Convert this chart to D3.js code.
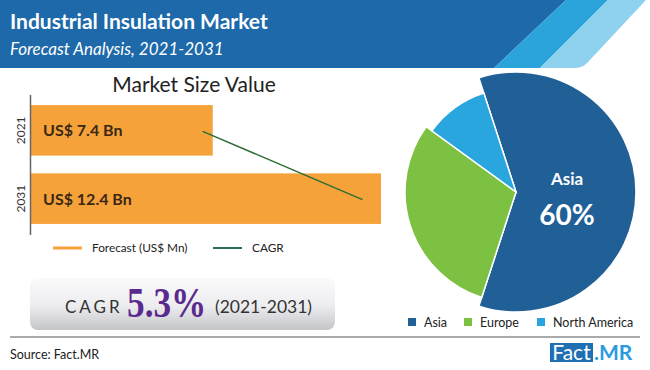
<!DOCTYPE html>
<html>
<head>
<meta charset="utf-8">
<script src="https://cdn.jsdelivr.net/npm/d3@7"></script>
<style>
  html, body { margin: 0; padding: 0; background: #fff; }
  svg { display: block; font-family: Lato, "Open Sans", sans-serif; }
</style>
</head>
<body>
<div id="chart"></div>
<script>
// values
const years = ["2021", "2031"];
const marketValues = [7.4, 12.4];
const valueLabels = ["US$ 7.4 Bn", "US$ 12.4 Bn"];
const cagrLineValues = [7.1, 11.85];
const regions = ["Asia", "Europe", "North America"];
const regionShares = [60, 30, 10];
const regionColors = ["#215f97", "#7dc143", "#2aa6de"];
const legendLabels = ["Forecast (US$ Mn)", "CAGR"];
const cagrText = "5.3%";
const cagrPeriod = "(2021-2031)";

const width = 650, height = 370;

const svg = d3.select("#chart")
  .append("svg")
  .attr("width", width)
  .attr("height", height);

const defs = svg.append("defs");
const boxGrad = defs.append("linearGradient")
  .attr("id", "boxGrad")
  .attr("x1", "0%").attr("x2", "0%")
  .attr("y1", "0%").attr("y2", "100%");
boxGrad.selectAll("stop")
  .data([
    { offset: "0%", color: "#fbfbfc" },
    { offset: "55%", color: "#ececef" },
    { offset: "100%", color: "#c4c5c9" }
  ])
  .enter()
  .append("stop")
  .attr("offset", d => d.offset)
  .attr("stop-color", d => d.color);

// header band
const header = svg.append("g").attr("class", "header");
header.append("polygon")
  .attr("points", "0,0 566,0 494,68 0,68")
  .attr("fill", "#1d69a9");
header.append("polygon")
  .attr("points", "566,0 608,0 540,68 494,68")
  .attr("fill", "#2aa4da");
header.append("path")
  .attr("d", "M608,0 L646,0 L588,62 Q583,68 574,68 L540,68 Z")
  .attr("fill", "#8ed2ef");
header.append("text")
  .attr("x", 10).attr("y", 29)
  .attr("fill", "#fff")
  .style("font-size", "21px")
  .style("font-weight", "bold")
  .text("Industrial Insulation Market");
header.append("text")
  .attr("x", 10).attr("y", 55)
  .attr("fill", "#fff")
  .style("font-size", "17px")
  .style("font-style", "italic")
  .text("Forecast Analysis, 2021-2031");

// bar chart
const x = d3.scaleLinear()
  .domain([2, 12.4])
  .range([31, 381]);
const y = d3.scaleBand()
  .domain(years)
  .range([88, 241])
  .paddingInner(0.26)
  .paddingOuter(0.25);

const barGroup = svg.append("g").attr("class", "bars");
barGroup.append("text")
  .attr("x", 194).attr("y", 92)
  .attr("text-anchor", "middle")
  .attr("fill", "#222")
  .style("font-size", "21px")
  .text("Market Size Value");

barGroup.selectAll("rect")
  .data(marketValues)
  .enter()
  .append("rect")
  .attr("x", x(2))
  .attr("y", (d, i) => y(years[i]))
  .attr("width", d => x(d) - x(2))
  .attr("height", y.bandwidth())
  .attr("fill", "#f6a23b");

barGroup.selectAll(".val")
  .data(valueLabels)
  .enter()
  .append("text")
  .attr("class", "val")
  .attr("x", 43)
  .attr("y", (d, i) => y(years[i]) + y.bandwidth() / 2 + 6)
  .attr("fill", "#3a2816")
  .style("font-size", "16px")
  .style("font-weight", "bold")
  .text(d => d);

barGroup.selectAll(".year")
  .data(years)
  .enter()
  .append("text")
  .attr("class", "year")
  .attr("transform", d => `translate(21, ${y(d) + y.bandwidth() / 2}) rotate(-90)`)
  .attr("text-anchor", "middle")
  .attr("dy", "0.35em")
  .attr("fill", "#333")
  .style("font-size", "12px")
  .text(d => d);

barGroup.append("line")
  .attr("x1", 30.5).attr("x2", 30.5)
  .attr("y1", 95).attr("y2", 235)
  .attr("stroke", "#666")
  .attr("stroke-width", 1.5);

const cagrLine = d3.line()
  .x(d => x(d))
  .y((d, i) => y(years[i]) + y.bandwidth() / 2 + 1);
barGroup.append("path")
  .attr("d", cagrLine(cagrLineValues))
  .attr("fill", "none")
  .attr("stroke", "#2c6e32")
  .attr("stroke-width", 1.5);

// bar legend
const legend = svg.append("g").attr("class", "legend");
const legendItems = [
  { x: 53, color: "#f6a23b", w: 3 },
  { x: 213, color: "#2c6e52", w: 2 }
];
legend.selectAll("line")
  .data(legendItems)
  .enter()
  .append("line")
  .attr("x1", d => d.x).attr("x2", d => d.x + 29)
  .attr("y1", 248).attr("y2", 248)
  .attr("stroke", d => d.color)
  .attr("stroke-width", d => d.w);
legend.selectAll("text")
  .data(legendLabels)
  .enter()
  .append("text")
  .attr("x", (d, i) => legendItems[i].x + 39)
  .attr("y", 252)
  .attr("fill", "#222")
  .style("font-size", "11.8px")
  .text(d => d);

// CAGR box
const box = svg.append("g").attr("class", "cagr");
box.append("rect")
  .attr("x", 30).attr("y", 278)
  .attr("width", 305).attr("height", 52)
  .attr("rx", 8)
  .attr("fill", "url(#boxGrad)");
box.append("text")
  .attr("x", 65).attr("y", 313)
  .attr("fill", "#333")
  .style("font-size", "17px")
  .style("letter-spacing", "3px")
  .text("CAGR");
box.append("text")
  .attr("transform", "translate(127,317) scale(0.84,1)")
  .attr("fill", "#5b2a8e")
  .style("font-family", "'Liberation Serif', serif")
  .style("font-weight", "bold")
  .style("font-size", "42px")
  .text(cagrText);
box.append("text")
  .attr("x", 215).attr("y", 313)
  .attr("fill", "#333")
  .style("font-size", "17.5px")
  .text(cagrPeriod);

svg.append("line")
  .attr("x1", 10).attr("x2", 640)
  .attr("y1", 337).attr("y2", 337)
  .attr("stroke", "#aaa")
  .attr("stroke-width", 2);

// pie, each slice drawn with its own radius as in the reference
const sliceRadius = [120, 111, 104];
const pie = d3.pie()
  .sort(null)
  .startAngle(-Math.PI * 0.1)
  .endAngle(Math.PI * 1.9);
const arc = d3.arc()
  .innerRadius(0)
  .outerRadius(d => sliceRadius[d.index]);
const pieGroup = svg.append("g")
  .attr("transform", "translate(516,192)");
pieGroup.selectAll("path")
  .data(pie(regionShares))
  .enter()
  .append("path")
  .attr("d", arc)
  .attr("fill", (d, i) => regionColors[i])
  .attr("stroke", "#fff")
  .attr("stroke-width", 1.5);
pieGroup.append("text")
  .attr("x", 51).attr("y", -7)
  .attr("text-anchor", "middle")
  .attr("fill", "#fff")
  .style("font-size", "17px")
  .style("font-weight", "bold")
  .text(regions[0]);
pieGroup.append("text")
  .attr("x", 51).attr("y", 33)
  .attr("text-anchor", "middle")
  .attr("fill", "#fff")
  .style("font-size", "28px")
  .style("font-weight", "bold")
  .text(regionShares[0] + "%");

// pie legend
const pieLegendX = [408, 464, 537];
const pieLegend = svg.append("g").attr("class", "pie-legend");
pieLegend.selectAll("rect")
  .data(regions)
  .enter()
  .append("rect")
  .attr("x", (d, i) => pieLegendX[i])
  .attr("y", 318)
  .attr("width", 8).attr("height", 8)
  .attr("fill", (d, i) => regionColors[i]);
pieLegend.selectAll("text")
  .data(regions)
  .enter()
  .append("text")
  .attr("x", (d, i) => pieLegendX[i] + 16)
  .attr("y", 327)
  .attr("fill", "#222")
  .style("font-size", "12.5px")
  .text(d => d);

// footer
svg.append("text")
  .attr("x", 10).attr("y", 359)
  .attr("fill", "#222")
  .style("font-size", "12.5px")
  .text("Source: Fact.MR");
const logo = svg.append("g").attr("class", "logo");
logo.append("rect")
  .attr("x", 550).attr("y", 343)
  .attr("width", 43).attr("height", 19)
  .attr("fill", "#1f6fb3");
logo.append("text")
  .attr("x", 571.5).attr("y", 360)
  .attr("text-anchor", "middle")
  .attr("fill", "#fff")
  .style("font-size", "21px")
  .text("Fact");
logo.append("text")
  .attr("x", 594).attr("y", 360)
  .attr("fill", "#2b9be0")
  .style("font-size", "21px")
  .style("font-weight", "bold")
  .text(".MR");
</script>
</body>
</html>
